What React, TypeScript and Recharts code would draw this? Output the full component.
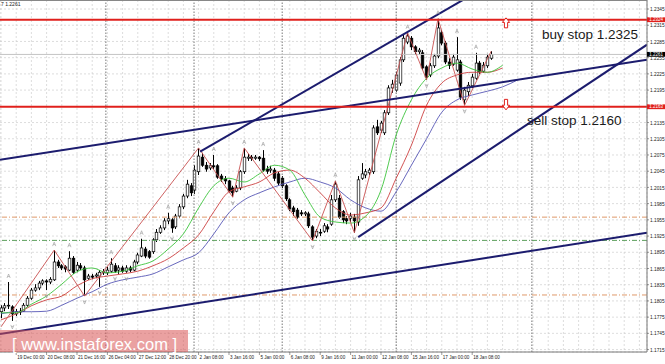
import {
  ComposedChart,
  XAxis,
  YAxis,
  CartesianGrid,
  Bar,
  Line,
  Scatter,
  ReferenceLine,
  ReferenceDot
} from 'recharts'

// EURUSD H4, bar 0 = 18 Dec
const X_MIN = -0.26
const X_MAX = 170
const Y_MIN = 1.17105
const Y_MAX = 1.23617

// [open, high, low, close]
const candles: number[][] = [
  [1.1785, 1.1797, 1.1773, 1.1792], [1.1792, 1.1801, 1.1786, 1.1796], [1.1796, 1.184, 1.179, 1.1797],
  [1.1794, 1.1797, 1.1768, 1.1781], [1.1781, 1.179, 1.1777, 1.1785], [1.1785, 1.1792, 1.1779, 1.1786],
  [1.1786, 1.1801, 1.1785, 1.1797], [1.1797, 1.1814, 1.1794, 1.181], [1.181, 1.1829, 1.1807, 1.1825],
  [1.1825, 1.1836, 1.1822, 1.1829], [1.1829, 1.1842, 1.1825, 1.1838], [1.1838, 1.1845, 1.1834, 1.1842],
  [1.1842, 1.1845, 1.1825, 1.184], [1.184, 1.1849, 1.1836, 1.1845], [1.1844, 1.1899, 1.1842, 1.1877],
  [1.1877, 1.1881, 1.1866, 1.187], [1.187, 1.1873, 1.1862, 1.1866], [1.1868, 1.1871, 1.1858, 1.1864],
  [1.1862, 1.1897, 1.186, 1.1884], [1.1884, 1.1888, 1.1855, 1.1858], [1.1862, 1.1877, 1.1858, 1.1871],
  [1.187, 1.1875, 1.1862, 1.1866], [1.1866, 1.187, 1.1814, 1.1844], [1.1847, 1.1855, 1.1844, 1.1851],
  [1.1851, 1.1855, 1.1845, 1.1849], [1.1851, 1.1857, 1.1847, 1.1853], [1.1851, 1.1862, 1.1831, 1.1858],
  [1.1857, 1.1864, 1.1853, 1.1859], [1.1857, 1.1868, 1.1853, 1.1862], [1.186, 1.1884, 1.1857, 1.1873],
  [1.187, 1.1875, 1.1857, 1.186], [1.1862, 1.1871, 1.1855, 1.1866], [1.1866, 1.187, 1.1857, 1.186],
  [1.186, 1.1871, 1.1857, 1.1866], [1.1866, 1.187, 1.1858, 1.1862], [1.1862, 1.1881, 1.186, 1.1877],
  [1.1877, 1.1894, 1.1873, 1.189], [1.1888, 1.192, 1.1886, 1.1903], [1.1901, 1.1905, 1.1884, 1.1888],
  [1.1896, 1.1899, 1.1883, 1.1886], [1.1896, 1.1921, 1.1892, 1.1918], [1.1918, 1.1938, 1.1914, 1.1932],
  [1.1932, 1.1945, 1.1929, 1.194], [1.194, 1.1958, 1.1936, 1.1953], [1.1953, 1.1968, 1.1947, 1.1957],
  [1.1955, 1.1958, 1.1931, 1.194], [1.1942, 1.1966, 1.1938, 1.1962], [1.1962, 1.1984, 1.1958, 1.1979],
  [1.1979, 1.2003, 1.1975, 1.1999], [1.1999, 1.2029, 1.1995, 1.2021], [1.2018, 1.2023, 1.1999, 1.2005],
  [1.201, 1.2056, 1.2003, 1.2047], [1.2044, 1.2088, 1.2038, 1.2073], [1.2071, 1.2079, 1.2053, 1.2056],
  [1.2056, 1.2062, 1.2044, 1.2049], [1.2051, 1.206, 1.2047, 1.2055], [1.2055, 1.2075, 1.2049, 1.2053],
  [1.2055, 1.2058, 1.2031, 1.2034], [1.2036, 1.204, 1.2025, 1.2031], [1.2031, 1.2036, 1.2021, 1.2027],
  [1.2027, 1.2029, 1.2005, 1.2008], [1.2014, 1.2018, 1.1997, 1.2005], [1.2008, 1.2019, 1.2006, 1.2014],
  [1.2014, 1.2047, 1.201, 1.2044], [1.2044, 1.2088, 1.204, 1.2071], [1.2069, 1.2077, 1.2064, 1.2071],
  [1.2071, 1.2075, 1.2064, 1.2069], [1.2069, 1.2075, 1.2066, 1.2071], [1.2071, 1.2073, 1.2064, 1.2068],
  [1.2069, 1.2084, 1.2044, 1.2047], [1.2049, 1.2055, 1.204, 1.2045], [1.2047, 1.2055, 1.2042, 1.2049],
  [1.2047, 1.2051, 1.2027, 1.2032], [1.204, 1.2044, 1.2019, 1.2023], [1.2032, 1.2036, 1.2014, 1.2018],
  [1.2018, 1.2021, 1.199, 1.1994], [1.1992, 1.1995, 1.1971, 1.1975], [1.1977, 1.1981, 1.1962, 1.197],
  [1.1973, 1.1977, 1.1957, 1.196], [1.1968, 1.1973, 1.1962, 1.1966], [1.1966, 1.1971, 1.1962, 1.1968],
  [1.1966, 1.197, 1.194, 1.1944], [1.1942, 1.1945, 1.1916, 1.1923], [1.1925, 1.1938, 1.1921, 1.1934],
  [1.1932, 1.1938, 1.1925, 1.1931], [1.1934, 1.1949, 1.1931, 1.1944], [1.1942, 1.1947, 1.1932, 1.1938],
  [1.1947, 1.2001, 1.1944, 1.1992], [1.1992, 1.2027, 1.1988, 1.2021], [1.1995, 1.2001, 1.1957, 1.196],
  [1.197, 1.1973, 1.1949, 1.1955], [1.1957, 1.1962, 1.1947, 1.1953], [1.1958, 1.1968, 1.1951, 1.1962],
  [1.196, 1.1966, 1.1931, 1.1953], [1.1951, 1.2036, 1.1944, 1.2029], [1.2032, 1.206, 1.2029, 1.204],
  [1.2038, 1.2049, 1.2032, 1.2044], [1.2042, 1.2051, 1.2038, 1.2047], [1.2044, 1.213, 1.204, 1.2125],
  [1.2127, 1.214, 1.2112, 1.2116], [1.2121, 1.2138, 1.2116, 1.2134], [1.2116, 1.2158, 1.2112, 1.2153],
  [1.2153, 1.2204, 1.2149, 1.2199], [1.2199, 1.2214, 1.219, 1.2206], [1.2195, 1.2229, 1.2192, 1.2223],
  [1.2208, 1.2256, 1.2203, 1.2251], [1.2251, 1.2297, 1.2247, 1.2291], [1.2284, 1.2301, 1.228, 1.2295],
  [1.2291, 1.2295, 1.2269, 1.2275], [1.2275, 1.2278, 1.226, 1.2266], [1.2266, 1.2273, 1.226, 1.2269],
  [1.2264, 1.2269, 1.2232, 1.2236], [1.2238, 1.2241, 1.2214, 1.2219], [1.2223, 1.2245, 1.2219, 1.224],
  [1.224, 1.2262, 1.2236, 1.2258], [1.2258, 1.2327, 1.2254, 1.231], [1.2301, 1.2306, 1.2278, 1.2282],
  [1.2282, 1.2286, 1.2243, 1.2247], [1.2247, 1.2254, 1.2234, 1.2241], [1.2243, 1.2262, 1.224, 1.2256],
  [1.2232, 1.2293, 1.2229, 1.2251], [1.2247, 1.2251, 1.2177, 1.2182], [1.2177, 1.2201, 1.2167, 1.2195],
  [1.2192, 1.221, 1.2184, 1.2204], [1.2203, 1.2225, 1.2199, 1.2219], [1.2217, 1.2264, 1.2214, 1.2245],
  [1.2245, 1.2249, 1.2225, 1.2229], [1.223, 1.2247, 1.2227, 1.2241], [1.224, 1.2262, 1.2236, 1.2256],
  [1.2254, 1.2267, 1.2251, 1.2261]
]

// moving averages, read every 4th bar
const maBars = [0, 4, 8, 12, 16, 20, 24, 28, 32, 36, 40, 44, 48, 52, 56, 60, 64, 68, 72, 76, 80, 84, 88, 92, 96, 100, 104, 108, 112, 116, 120, 124, 128, 132, 136]
const maFast = [1.1783, 1.1783, 1.1799, 1.1814, 1.1836, 1.1859, 1.1866, 1.1857, 1.186, 1.187, 1.1879, 1.1901, 1.1929, 1.1977, 1.2018, 1.2032, 1.2025, 1.204, 1.2056, 1.2047, 1.2001, 1.196, 1.1951, 1.1949, 1.1962, 1.201, 1.2112, 1.2177, 1.2217, 1.2236, 1.2245, 1.2234, 1.2228, 1.2241]
const maMid = [1.177, 1.1781, 1.1796, 1.1807, 1.1814, 1.1833, 1.1846, 1.1851, 1.1855, 1.186, 1.187, 1.1883, 1.1903, 1.1927, 1.197, 1.2007, 1.2016, 1.2025, 1.2042, 1.2047, 1.2032, 1.2005, 1.1977, 1.1964, 1.1968, 1.1977, 1.2032, 1.2093, 1.2167, 1.2208, 1.2223, 1.2228, 1.2228, 1.2236]
const maSlow = [1.1781, 1.1785, 1.1785, 1.1786, 1.1797, 1.181, 1.1822, 1.1836, 1.1844, 1.1849, 1.1855, 1.1868, 1.1881, 1.1894, 1.1929, 1.1968, 1.1992, 1.2005, 1.2016, 1.2025, 1.2032, 1.2025, 1.2014, 1.1992, 1.1977, 1.1971, 1.2007, 1.2056, 1.2105, 1.2154, 1.2177, 1.2186, 1.2193, 1.2201, 1.2214]

const zigzag = [[0, 1.1757], [14, 1.1899], [22, 1.1814], [52, 1.2088], [61, 1.1997], [64, 1.2088], [82, 1.1916], [88, 1.2027], [93, 1.1931], [107, 1.2301], [112, 1.2214], [115, 1.2327], [122, 1.2167], [129, 1.2267]]
const fractalUp = [2, 14, 18, 29, 37, 44, 52, 56, 64, 69, 88, 107, 115, 120, 125]
const fractalDown = [3, 12, 22, 26, 30, 33, 45, 61, 82, 93, 112, 122]

const trendLines = [
  [[-0.26, 1.2066], [170, 1.2251]],
  [[52.4, 1.2081], [130, 1.2396]],
  [[94, 1.1923], [170, 1.2279]],
  [[-0.26, 1.1744], [170, 1.1931]]
]
const separators = [27.6, 50.8, 74, 104, 139.7]
const buyStop = 1.2325
const sellStop = 1.2164
const lastPrice = 1.2261
const dashOrange = [1.196, 1.1816]
const dashGreen = 1.1917
const arrowBar = 132.9

const yTicks = [1.1715, 1.1745, 1.1775, 1.1805, 1.1835, 1.1865, 1.1895, 1.1925, 1.1955, 1.1985, 1.2015, 1.2045, 1.2075, 1.2105, 1.2135, 1.2195, 1.2225, 1.2255, 1.2285, 1.2315, 1.2345]
const gridBars = [0, 4, 8, 12, 16, 20, 24, 28, 32, 36, 40, 44, 48, 52, 56, 60, 64, 68, 72, 76, 80, 84, 88, 92, 96, 100, 104, 108, 112, 116, 120, 124, 128, 132, 136, 140, 144, 148, 152, 156, 160, 164, 168]
const xTickBars = [4, 12, 20, 28, 36, 44, 52, 60, 68, 76, 84, 92, 100, 108, 116, 124]
const xTickLabels = ['19 Dec 00:00', '20 Dec 08:00', '21 Dec 16:00', '26 Dec 04:00', '27 Dec 12:00', '28 Dec 20:00', '2 Jan 08:00', '3 Jan 16:00', '5 Jan 00:00', '6 Jan 08:00', '9 Jan 16:00', '11 Jan 00:00', '12 Jan 08:00', '15 Jan 16:00', '17 Jan 00:00', '18 Jan 08:00']

const rowMap = new Map<number, any>()
const row = (i: number) => {
  if (!rowMap.has(i)) rowMap.set(i, { i })
  return rowMap.get(i)
}
candles.forEach(([o, h, l, c], i) => Object.assign(row(i), { o, h, l, c, range: [l, h] }))
maBars.forEach((b, k) => {
  const r = row(b)
  if (k < maFast.length) r.fast = maFast[k]
  if (k < maMid.length) r.mid = maMid[k]
  if (k < maSlow.length) r.slow = maSlow[k]
})
zigzag.forEach(([b, v]) => (row(b).zz = v))
const data = [...rowMap.values()].sort((a, b) => a.i - b.i)

const upData = fractalUp.map((i) => ({ i, y: candles[i][1] }))
const downData = fractalDown.map((i) => ({ i, y: candles[i][2] }))

const FONT = '"Liberation Sans", Arial, sans-serif'

function Candle(props: any) {
  const { x, y, width, height, payload } = props
  if (!payload || payload.o == null) return <g />
  const { o, h, l, c } = payload
  const top = Math.min(y, y + height)
  const hh = Math.abs(height)
  const py = (v: number) => top + ((h - v) / (h - l)) * hh
  const cx = Math.round(x + width / 2) + 0.5
  const yo = py(o)
  const yc = py(c)
  const bt = Math.min(yo, yc)
  const bh = Math.max(0.8, Math.abs(yc - yo))
  return (
    <g>
      <line x1={cx} x2={cx} y1={top} y2={top + hh} stroke="#000" strokeWidth={1} />
      <rect x={cx - 1.3} y={bt} width={2.6} height={bh} fill={c >= o ? '#fff' : '#000'} stroke="#000" strokeWidth={0.7} />
    </g>
  )
}

const FracUp = (p: any) => (
  <path d={`M${p.cx - 1.6},${p.cy - 4} L${p.cx},${p.cy - 8} L${p.cx + 1.6},${p.cy - 4} M${p.cx - 1},${p.cy - 5.5} L${p.cx + 1},${p.cy - 5.5}`} stroke="#999" strokeWidth={0.6} fill="none" />
)
const FracDown = (p: any) => (
  <path d={`M${p.cx - 1.6},${p.cy + 4} L${p.cx},${p.cy + 8} L${p.cx + 1.6},${p.cy + 4} M${p.cx - 1},${p.cy + 5.5} L${p.cx + 1},${p.cy + 5.5}`} stroke="#999" strokeWidth={0.6} fill="none" />
)

const UpArrow = (p: any) => {
  const { cx, cy } = p
  return (
    <path d={`M${cx},${cy - 2} L${cx + 3.6},${cy + 2.6} L${cx + 1.6},${cy + 2.6} L${cx + 1.6},${cy + 8} L${cx - 1.6},${cy + 8} L${cx - 1.6},${cy + 2.6} L${cx - 3.6},${cy + 2.6} Z`} fill="#fff" stroke="#e0201c" strokeWidth={1} />
  )
}
const DownArrow = (p: any) => {
  const { cx, cy } = p
  return (
    <path d={`M${cx},${cy + 3} L${cx + 3.6},${cy - 1.6} L${cx + 1.6},${cy - 1.6} L${cx + 1.6},${cy - 7.5} L${cx - 1.6},${cy - 7.5} L${cx - 1.6},${cy - 1.6} L${cx - 3.6},${cy - 1.6} Z`} fill="#fff" stroke="#e0201c" strokeWidth={1} />
  )
}

const axisBox = (label: string, color: string) => (p: any) => (
  <g>
    <rect x={p.cx} y={p.cy - 2.5} width={18} height={4.8} fill={color} />
    <text x={p.cx + 2.2} y={p.cy + 1.5} fontSize={4.5} fill="#fff" fontFamily={FONT}>{label}</text>
  </g>
)

const XTick = (p: any) => {
  const k = xTickBars.indexOf(p.payload.value)
  if (k < 0) return <g />
  return (
    <g>
      <line x1={p.x} x2={p.x} y1={352} y2={355} stroke="#555" strokeWidth={0.6} />
      <text x={p.x + 1} y={358.5} fontSize={4.6} fill="#222" fontFamily={FONT}>{xTickLabels[k]}</text>
    </g>
  )
}

const YTick = (p: any) => (
  <g>
    <line x1={647} x2={649} y1={p.y} y2={p.y} stroke="#555" strokeWidth={0.6} />
    <text x={650} y={p.y + 2.1} fontSize={4.8} fill="#222" fontFamily={FONT}>{Number(p.payload.value).toFixed(4)}</text>
  </g>
)

export default function App() {
  return (
    <div style={{ position: 'absolute', left: 0, top: 0, width: 665, height: 364, background: '#fff', fontFamily: FONT }}>
      <ComposedChart width={665} height={364} data={data} margin={{ top: 0, right: 0, bottom: 0, left: 0 }}>
        <CartesianGrid stroke="#cfcfcf" strokeDasharray="2 2" strokeWidth={0.7} />
        <XAxis
          dataKey="i"
          type="number"
          domain={[X_MIN, X_MAX]}
          allowDataOverflow
          ticks={gridBars}
          interval={0}
          height={12}
          tick={<XTick />}
          tickLine={false}
          axisLine={{ stroke: '#777' }}
        />
        <YAxis
          orientation="right"
          type="number"
          domain={[Y_MIN, Y_MAX]}
          allowDataOverflow
          ticks={yTicks}
          interval={0}
          width={18}
          tick={<YTick />}
          tickLine={false}
          axisLine={{ stroke: '#777' }}
        />
        {separators.map((s) => (
          <ReferenceLine key={s} x={s} stroke="#555" strokeDasharray="1.5 1.5" strokeWidth={0.8} />
        ))}
        {dashOrange.map((v) => (
          <ReferenceLine key={v} y={v} stroke="#df9a6a" strokeDasharray="5 2 1 2" strokeWidth={1} />
        ))}
        <ReferenceLine y={dashGreen} stroke="#5c9f5c" strokeDasharray="5 2 1 2" strokeWidth={1} />
        <ReferenceLine y={lastPrice} stroke="#c4c4c4" strokeWidth={1} />
        <Line dataKey="slow" type="monotone" stroke="#5757b5" strokeWidth={0.9} dot={false} activeDot={false} connectNulls isAnimationActive={false} />
        <Line dataKey="mid" type="monotone" stroke="#cc4040" strokeWidth={0.9} dot={false} activeDot={false} connectNulls isAnimationActive={false} />
        <Line dataKey="fast" type="monotone" stroke="#3cc43c" strokeWidth={0.9} dot={false} activeDot={false} connectNulls isAnimationActive={false} />
        <Line dataKey="zz" type="linear" stroke="#c85050" strokeWidth={0.9} dot={false} activeDot={false} connectNulls isAnimationActive={false} />
        <Bar dataKey="range" barSize={3} shape={<Candle />} activeBar={false} isAnimationActive={false} />
        <Scatter data={upData} dataKey="y" shape={<FracUp />} isAnimationActive={false} />
        <Scatter data={downData} dataKey="y" shape={<FracDown />} isAnimationActive={false} />
        {trendLines.map((t, k) => (
          <ReferenceLine
            key={k}
            segment={[{ x: t[0][0], y: t[0][1] }, { x: t[1][0], y: t[1][1] }]}
            stroke="#1c1c6e"
            strokeWidth={2}
            ifOverflow="hidden"
          />
        ))}
        <ReferenceLine y={buyStop} stroke="#e0201c" strokeWidth={2} />
        <ReferenceLine y={sellStop} stroke="#e0201c" strokeWidth={2} />
        <ReferenceDot x={arrowBar} y={buyStop} r={3} shape={<UpArrow />} />
        <ReferenceDot x={arrowBar} y={sellStop} r={3} shape={<DownArrow />} />
        <ReferenceDot x={X_MAX} y={buyStop} r={3} shape={axisBox('1.2324', '#e0201c')} />
        <ReferenceDot x={X_MAX} y={lastPrice} r={3} shape={axisBox('1.2261', '#000')} />
        <ReferenceDot x={X_MAX} y={sellStop} r={3} shape={axisBox('1.2163', '#e0201c')} />
      </ComposedChart>
      <svg width={665} height={364} style={{ position: 'absolute', left: 0, top: 0, pointerEvents: 'none' }}>
        <line x1={0} x2={647} y1={0.5} y2={0.5} stroke="#888" strokeWidth={1} />
        <text x={1} y={5.5} fontSize={5} fill="#222" fontFamily={FONT}>7 1.2261</text>
        <text x={542} y={39} fontSize={13.5} fill="#1a1a1a" fontFamily={FONT}>buy stop 1.2325</text>
        <text x={527} y={124.5} fontSize={13.5} fill="#1a1a1a" fontFamily={FONT}>sell stop 1.2160</text>
        <rect x={0} y={330} width={188} height={22} fill="rgba(216,84,84,0.55)" />
        <text x={12} y={350} fontSize={16.5} fill="#fff" fontFamily={FONT}>[ www.instaforex.com ]</text>
      </svg>
    </div>
  )
}
